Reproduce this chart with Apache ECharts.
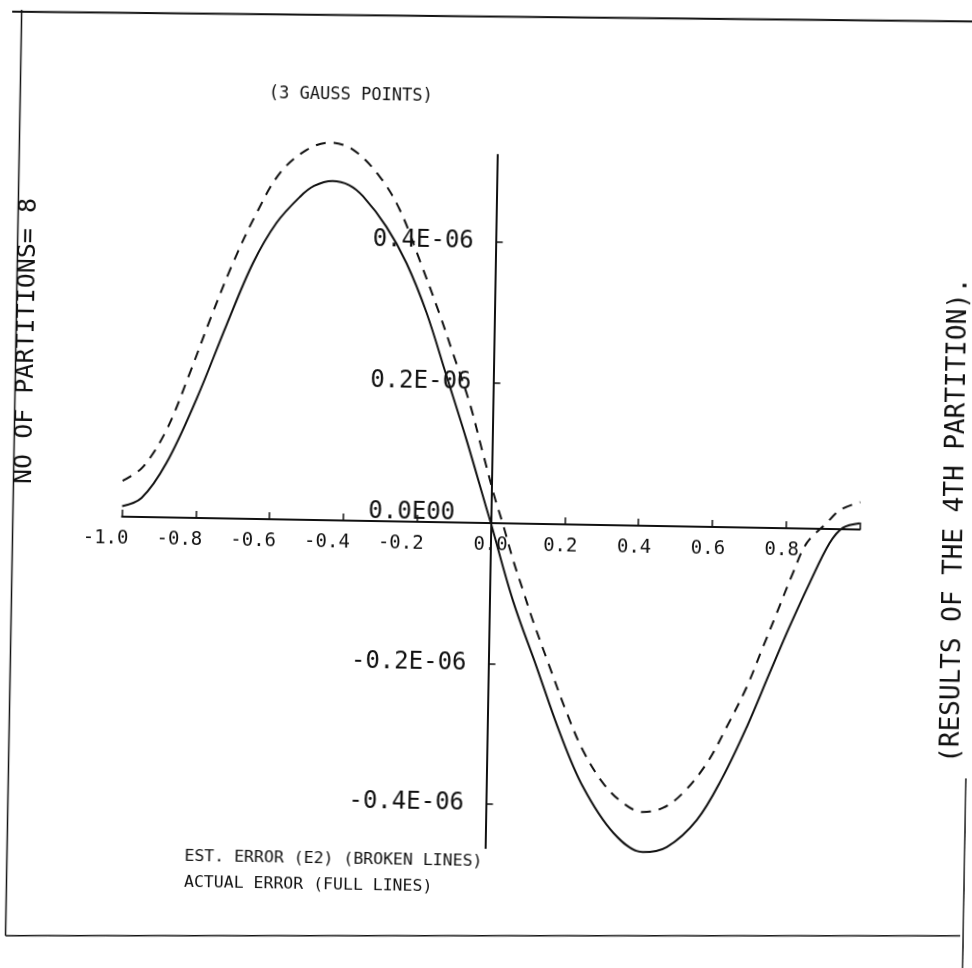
<!DOCTYPE html>
<html>
<head>
<meta charset="utf-8">
<title>Error estimate, 3 Gauss points</title>
<script src="https://cdn.jsdelivr.net/npm/echarts@6/dist/echarts.min.js"></script>
<style>
  html, body { margin: 0; padding: 0; background: #fff; overflow: hidden; }
  /* the plotted sheet sits slightly askew on the page */
  #chart { width: 972px; height: 968px; transform: rotate(1deg); transform-origin: 50% 50%; }
</style>
</head>
<body>
<div id="chart"></div>
<script>
// Values of the error are in units of 1E-06.
const xActual = [-1.0, -0.948, -0.882, -0.803, -0.726, -0.657, -0.595, -0.533, -0.495, -0.445,
  -0.400, -0.362, -0.297, -0.241, -0.184, -0.127, -0.070, -0.012, 0.0, 0.063, 0.131, 0.197, 0.262,
  0.347, 0.427, 0.492, 0.572, 0.640, 0.703, 0.763, 0.814, 0.867, 0.919, 0.954, 1.0];
const yActual = [0.015, 0.027, 0.0775, 0.170, 0.275, 0.364, 0.422, 0.4595, 0.4755, 0.483,
  0.4775, 0.462, 0.419, 0.368, 0.2975, 0.208, 0.118, 0.020, 0.0, -0.109, -0.204, -0.297, -0.373,
  -0.438, -0.4645, -0.4566, -0.4175, -0.356, -0.284, -0.206, -0.1405, -0.077, -0.020, 0.002, 0.009];

const xEst = [-1.0, -0.946, -0.883, -0.823, -0.771, -0.711, -0.649, -0.588, -0.517, -0.454,
  -0.391, -0.317, -0.261, -0.205, -0.148, -0.111, -0.063, -0.025, 0.009, 0.032, 0.062, 0.090,
  0.118, 0.166, 0.215, 0.260, 0.316, 0.371, 0.425, 0.480, 0.533, 0.597, 0.649, 0.701, 0.743,
  0.779, 0.821, 0.857, 0.910, 0.945, 1.0];
const yEst = [0.051, 0.071, 0.125, 0.206, 0.282, 0.364, 0.436, 0.493, 0.5265, 0.5375,
  0.528, 0.490, 0.443, 0.372, 0.295, 0.241, 0.170, 0.0995, 0.037, 0.0, -0.052, -0.0945,
  -0.137, -0.203, -0.2685, -0.321, -0.367, -0.395, -0.4075, -0.401, -0.3795, -0.336, -0.284,
  -0.227, -0.170, -0.121, -0.0635, -0.0205, 0.0085, 0.027, 0.039];

const xTicks = [-1.0, -0.8, -0.6, -0.4, -0.2, 0.0, 0.2, 0.4, 0.6, 0.8, 1.0];
const xTickLabels = [-1.0, -0.8, -0.6, -0.4, -0.2, 0.0, 0.2, 0.4, 0.6, 0.8];
const yTicks = [-0.4, -0.2, 0.0, 0.2, 0.4];
const xMin = -1, xMax = 1;
const yMin = -0.4626, yMax = 0.5241;

const titleText = '(3 GAUSS POINTS)';
const leftNote = 'NO OF PARTITIONS= 8';
const rightNote = '(RESULTS OF THE 4TH PARTITION).';
const legendLines = ['EST. ERROR (E2) (BROKEN LINES)', 'ACTUAL ERROR (FULL LINES)'];

const FONT = '"DejaVu Sans Mono", "Liberation Mono", monospace';
const INK = '#111';

// plot box
const W = 972, H = 968;
const G = { left: 122.6, right: 111.5, top: 154.8, bottom: 120 };
const plotW = W - G.left - G.right, plotH = H - G.top - G.bottom;
// the axes cross at the origin: shift each one in from the plot edge
const xAxisShift = -plotH * (0 - yMin) / (yMax - yMin);
const yAxisShift = -plotW * (0 - xMin) / (xMax - xMin);

const pair = (xs, ys) => xs.map((x, i) => [x, ys[i]]);

// x tick labels: the plotter set signed numbers a little to the left of their tick
const xLabelStyle = { fontFamily: FONT, fontSize: 19, color: INK };
const xLabelRich = {
  neg: Object.assign({ padding: [0, 32, 0, 0] }, xLabelStyle),
  pos: Object.assign({ padding: [0, 8, 0, 0] }, xLabelStyle)
};
const xLabelFormat = v => {
  const s = Number(v).toFixed(1);
  if (v < -1e-9) return '{neg|' + s + '}';
  if (v > 1e-9) return '{pos|' + s + '}';
  return s;
};

const chart = echarts.init(document.getElementById('chart'), null, { renderer: 'canvas' });

chart.setOption({
  backgroundColor: '#fff',
  animation: false,
  grid: Object.assign({ outerBoundsMode: 'none', containLabel: false }, G),
  xAxis: {
    type: 'value',
    min: xMin, max: xMax,
    position: 'bottom',
    offset: xAxisShift,
    axisLine: { onZero: false, lineStyle: { color: INK, width: 2 } },
    axisTick: { inside: true, length: 7, lineStyle: { color: INK, width: 1.5 }, customValues: xTicks },
    axisLabel: {
      customValues: xTickLabels,
      interval: 0,
      margin: 13,
      color: INK, fontFamily: FONT, fontSize: 19,
      formatter: xLabelFormat,
      rich: xLabelRich
    },
    splitLine: { show: false }
  },
  yAxis: {
    type: 'value',
    min: yMin, max: yMax,
    position: 'left',
    offset: yAxisShift,
    axisLine: { onZero: false, lineStyle: { color: INK, width: 2 } },
    axisTick: { inside: true, length: 7, lineStyle: { color: INK, width: 1.5 }, customValues: yTicks },
    axisLabel: {
      customValues: yTicks,
      interval: 0,
      margin: 22,
      color: INK, fontFamily: FONT, fontSize: 24,
      formatter: v => Math.abs(v) < 1e-9 ? '{z|0.0E00}' : Number(v).toFixed(1) + 'E-06',
      rich: { z: { fontFamily: FONT, fontSize: 24, color: INK, padding: [0, 14, 18, 0] } }
    },
    splitLine: { show: false }
  },
  series: [
    {
      name: 'ACTUAL ERROR', type: 'line', data: pair(xActual, yActual),
      showSymbol: false, smooth: 0.35, clip: false,
      lineStyle: { color: INK, width: 2 }
    },
    {
      name: 'EST. ERROR (E2)', type: 'line', data: pair(xEst, yEst),
      showSymbol: false, smooth: 0.35, clip: false,
      lineStyle: { color: INK, width: 2, type: [10, 8] }
    }
  ],
  graphic: [
    // sheet frame
    { type: 'line', shape: { x1: 4, y1: 20, x2: 972, y2: 13 }, style: { stroke: INK, lineWidth: 2 } },
    { type: 'line', shape: { x1: 13.5, y1: 18, x2: 13.5, y2: 944 }, style: { stroke: INK, lineWidth: 1.5 } },
    { type: 'line', shape: { x1: 13.5, y1: 944, x2: 968, y2: 927.5 }, style: { stroke: INK, lineWidth: 1.5 } },
    { type: 'line', shape: { x1: 971, y1: 770, x2: 971, y2: 968 }, style: { stroke: INK, lineWidth: 1.5 } },
    // headings and notes
    { type: 'text', x: 344, y: 98, style: { text: titleText, font: '17px ' + FONT, fill: INK, align: 'center', verticalAlign: 'middle' } },
    { type: 'text', x: 24, y: 349, rotation: Math.PI / 2, style: { text: leftNote, font: '25px ' + FONT, fill: INK, align: 'center', verticalAlign: 'middle' } },
    { type: 'text', x: 956, y: 512, rotation: Math.PI / 2, style: { text: rightNote, font: '26px ' + FONT, fill: INK, align: 'center', verticalAlign: 'middle' } },
    { type: 'text', x: 191, y: 862, style: { text: legendLines[0], font: '16.5px ' + FONT, fill: INK, align: 'left', verticalAlign: 'middle' } },
    { type: 'text', x: 191, y: 888, style: { text: legendLines[1], font: '16.5px ' + FONT, fill: INK, align: 'left', verticalAlign: 'middle' } }
  ]
});
</script>
</body>
</html>
